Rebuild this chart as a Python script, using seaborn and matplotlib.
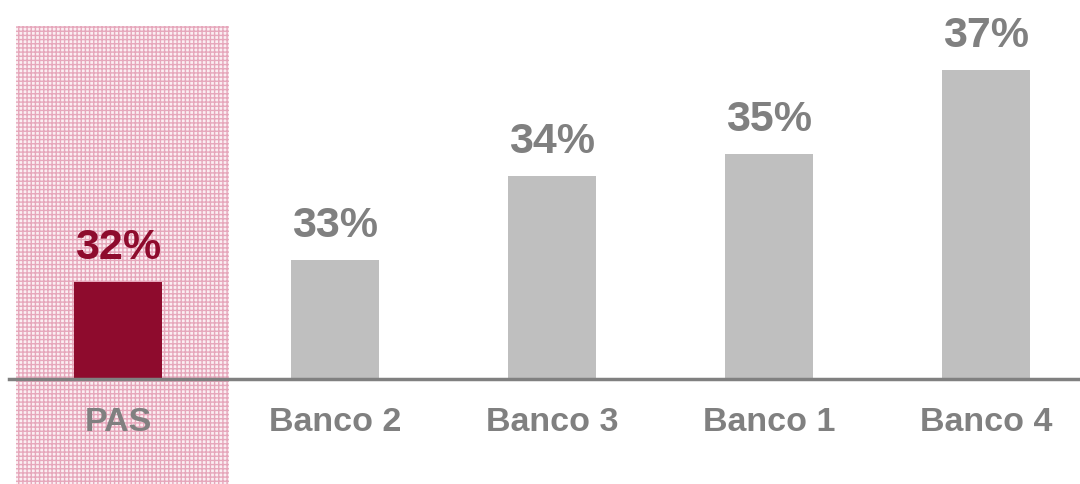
import matplotlib
matplotlib.use("Agg")
import matplotlib.pyplot as plt
import seaborn as sns
import pandas as pd
from matplotlib.patches import Rectangle

categories = ["PAS", "Banco 2", "Banco 3", "Banco 1", "Banco 4"]
values = [32.0, 32.5, 34.5, 35.0, 37.0]
value_labels = ["32%", "33%", "34%", "35%", "37%"]

sns.set_style("white")
plt.rcParams['font.family'] = ['Liberation Sans', 'DejaVu Sans']
plt.rcParams['hatch.linewidth'] = 1.0

RED = "#8e0b2d"
GRAY = "#bfbfbf"
TXT = "#808080"

df = pd.DataFrame({"cat": categories, "val": values})
fig = plt.figure(figsize=(10.8, 4.84), dpi=100)
ax = fig.add_axes([9/1080, 105/484, 1 - 9/1080, 379/484])

palette = [RED] + [GRAY] * 4
sns.barplot(data=df, x="cat", y="val", hue="cat", palette=palette, legend=False,
            width=0.405, ax=ax, saturation=1, linewidth=0, edgecolor="none")

y0 = 29.7
ax.set_ylim(y0, y0 + 379 * 0.0236)
ax.set_xlim(-0.502, 4.433)

# highlighted background
rect = Rectangle((-0.47, -0.3), 0.98, 1.3 - 26/379, transform=ax.get_xaxis_transform(),
                 facecolor="#fbeef2", edgecolor="#e6a7bb", hatch="++++", linewidth=0,
                 clip_on=False, zorder=0)
ax.add_patch(rect)

for i, (v, lab) in enumerate(zip(values, value_labels)):
    ax.annotate(lab, (i, v), xytext=(0, 14), textcoords="offset pixels",
                ha="center", va="bottom", fontsize=31, fontweight="bold",
                color=RED if i == 0 else TXT)

for s in ["top", "right", "left"]:
    ax.spines[s].set_visible(False)
ax.spines["bottom"].set_color("#808080")
ax.spines["bottom"].set_linewidth(2.5)
ax.set_yticks([])
ax.set_xlabel("")
ax.set_ylabel("")
ax.tick_params(axis="x", length=0, pad=20)
ax.set_xticks(range(len(categories)))
ax.set_xticklabels(categories, fontsize=24.5, fontweight="bold", color=TXT)
ax.patch.set_alpha(0)

fig.savefig("out.png", dpi=100)
